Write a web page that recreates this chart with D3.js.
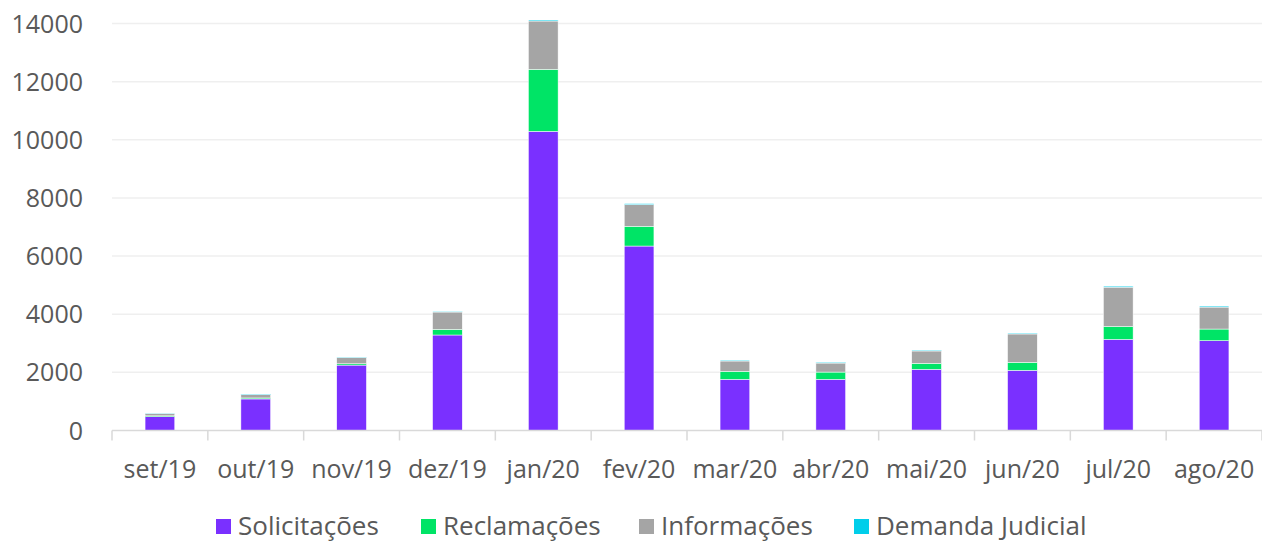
<!DOCTYPE html>
<html>
<head>
<meta charset="utf-8">
<script src="https://cdn.jsdelivr.net/npm/d3@7"></script>
<style>
  body { margin: 0; background: #fff; }
  text { font-family: "Open Sans", sans-serif; fill: #595959; }
</style>
</head>
<body>
<div id="chart"></div>
<script>
const [width, height] = [1262, 541];

// data
const months = ["set/19", "out/19", "nov/19", "dez/19", "jan/20", "fev/20",
                "mar/20", "abr/20", "mai/20", "jun/20", "jul/20", "ago/20"];
const solicitacoes = [475, 1085, 2250, 3285, 10290, 6345, 1760, 1760, 2105, 2070, 3135, 3090];
const reclamacoes  = [30, 35, 45, 195, 2135, 680, 275, 250, 205, 275, 445, 400];
const informacoes  = [75, 110, 215, 595, 1660, 745, 355, 310, 425, 975, 1350, 755];
const demanda      = [12, 20, 15, 25, 35, 35, 30, 30, 30, 30, 35, 35];
const seriesNames  = ["Solicitações", "Reclamações", "Informações", "Demanda Judicial"];
const colors       = ["#7A30FF", "#00E466", "#A5A5A5", "#00CEEA"];
const yTicks       = [0, 2000, 4000, 6000, 8000, 10000, 12000, 14000];

const margin = {top: 23.5, right: 0, bottom: 110.5, left: 112};

const svg = d3.select("#chart")
              .append("svg")
              .attr("width", width)
              .attr("height", height);

// build rows for the stack
const rows = months.map((m, i) => ({
    month: m,
    "Solicitações": solicitacoes[i],
    "Reclamações": reclamacoes[i],
    "Informações": informacoes[i],
    "Demanda Judicial": demanda[i]
}));

const stacked = d3.stack().keys(seriesNames)(rows);

// scales
const x = d3.scaleBand()
            .domain(months)
            .range([margin.left, width - margin.right])
            .paddingInner(0.69)
            .paddingOuter(0.345);

const y = d3.scaleLinear()
            .domain([0, 14000])
            .range([height - margin.bottom, margin.top]);

const step = x.step();

// gridlines
svg.append("g")
    .selectAll("line")
    .data(yTicks.slice(1))
    .enter()
    .append("line")
    .attr("x1", margin.left)
    .attr("x2", width - margin.right)
    .attr("y1", d => y(d))
    .attr("y2", d => y(d))
    .attr("stroke", "#EFEFEF")
    .attr("stroke-width", 1.5);

// y labels
svg.append("g")
    .selectAll("text")
    .data(yTicks)
    .enter()
    .append("text")
    .attr("x", 83)
    .attr("y", d => y(d))
    .attr("dy", "0.36em")
    .attr("text-anchor", "end")
    .style("font-size", "25px")
    .text(d => d);

// bars
svg.append("g")
    .selectAll("g")
    .data(stacked)
    .enter()
    .append("g")
    .attr("fill", (d, i) => colors[i])
    .selectAll("rect")
    .data(d => d)
    .enter()
    .append("rect")
    .attr("x", d => x(d.data.month))
    .attr("width", x.bandwidth())
    .attr("y", d => y(d[1]))
    .attr("height", d => y(d[0]) - y(d[1]))
    .attr("stroke", "#fff")
    .attr("stroke-width", 0.5);

// x axis line + boundary ticks
const axisY = y(0);
svg.append("line")
    .attr("x1", margin.left)
    .attr("x2", width - margin.right)
    .attr("y1", axisY)
    .attr("y2", axisY)
    .attr("stroke", "#D9D9D9")
    .attr("stroke-width", 1.5);

svg.append("g")
    .selectAll("line")
    .data(d3.range(months.length + 1))
    .enter()
    .append("line")
    .attr("x1", i => margin.left + i * step)
    .attr("x2", i => margin.left + i * step)
    .attr("y1", axisY)
    .attr("y2", axisY + 10)
    .attr("stroke", "#D9D9D9")
    .attr("stroke-width", 1.5);

// x labels
svg.append("g")
    .selectAll("text")
    .data(months)
    .enter()
    .append("text")
    .attr("x", d => x(d) + x.bandwidth() / 2)
    .attr("y", 478)
    .attr("text-anchor", "middle")
    .style("font-size", "25px")
    .text(d => d);

// legend
const legendX = [216, 421, 639, 854];
const legend = svg.append("g")
    .selectAll("g")
    .data(seriesNames)
    .enter()
    .append("g")
    .attr("transform", (d, i) => `translate(${legendX[i]}, 519)`);

legend.append("rect")
    .attr("width", 15)
    .attr("height", 15)
    .attr("fill", (d, i) => colors[i]);

legend.append("text")
    .attr("x", 22)
    .attr("y", 15.5)
    .style("font-size", "26px")
    .text(d => d);
</script>
</body>
</html>
